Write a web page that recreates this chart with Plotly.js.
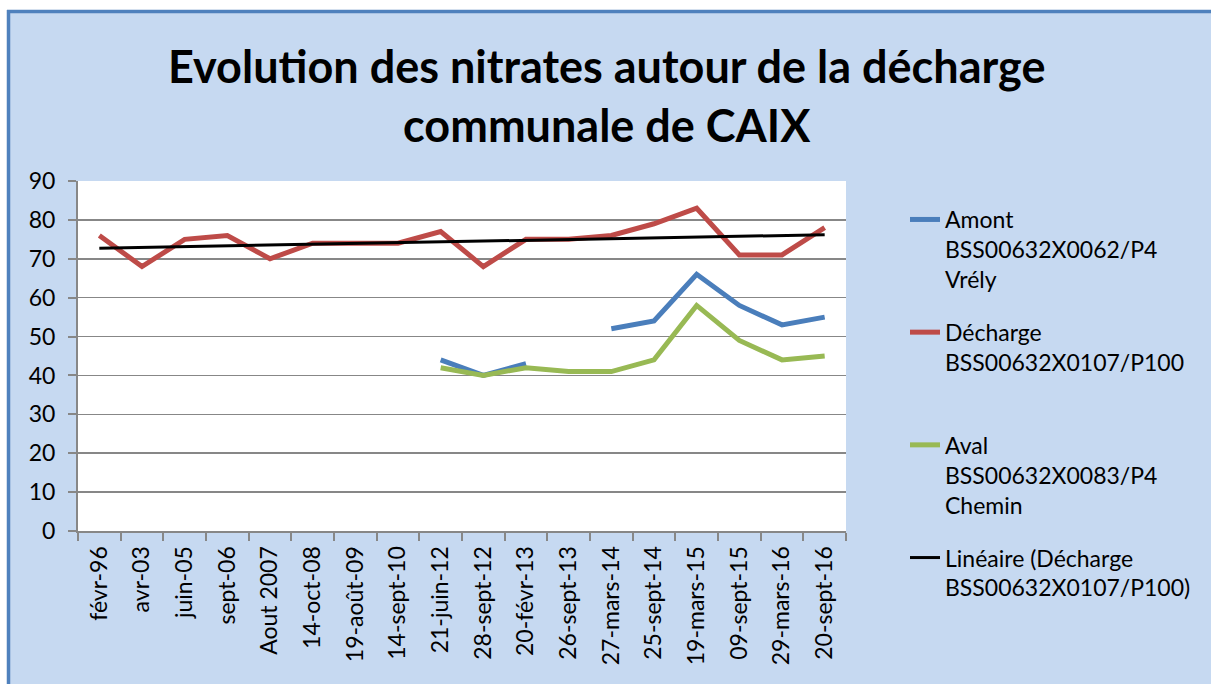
<!DOCTYPE html>
<html><head><meta charset="utf-8">
<script src="https://cdn.plot.ly/plotly-3.0.1.min.js"></script>
<style>html,body{margin:0;padding:0;background:#fff}#chart{width:1211px;height:684px}</style>
</head><body><div id="chart"></div>
<script>
const categories = ["févr-96","avr-03","juin-05","sept-06","Aout 2007","14-oct-08","19-août-09","14-sept-10","21-juin-12","28-sept-12","20-févr-13","26-sept-13","27-mars-14","25-sept-14","19-mars-15","09-sept-15","29-mars-16","20-sept-16"];
const amont    = [null,null,null,null,null,null,null,null,44,40,43,null,52,54,66,58,53,55];
const decharge = [76,68,75,76,70,74,74,74,77,68,75,75,76,79,83,71,71,78];
const aval     = [null,null,null,null,null,null,null,null,42,40,42,41,41,44,58,49,44,45];
const yTicks   = [0,10,20,30,40,50,60,70,80,90];
const names = {
  amont: "Amont<br>BSS00632X0062/P4<br>Vrély",
  decharge: "Décharge<br>BSS00632X0107/P100<br>\u00a0",
  aval: "Aval<br>BSS00632X0083/P4<br>Chemin",
  trend: "Linéaire (Décharge<br>BSS00632X0107/P100)"
};
const titleText = "Evolution des nitrates autour de la décharge<br>communale de CAIX";

// Excel-style linear trendline (least squares over category index)
const n = decharge.length;
const xs = decharge.map((_, i) => i + 1);
const mx = xs.reduce((a, b) => a + b, 0) / n;
const my = decharge.reduce((a, b) => a + b, 0) / n;
let sxy = 0, sxx = 0;
for (let i = 0; i < n; i++) { sxy += (xs[i] - mx) * (decharge[i] - my); sxx += (xs[i] - mx) ** 2; }
const slope = sxy / sxx, intercept = my - slope * mx;
const trend = xs.map(x => intercept + slope * x);

const FONT = "Lato, 'Open Sans', sans-serif";
const traces = [
  {x: categories, y: amont, name: names.amont, mode: "lines", line: {color: "#4A7EBB", width: 5}, connectgaps: false, legendgroup: "a"},
  {x: categories, y: decharge, name: names.decharge, mode: "lines", line: {color: "#BE4B48", width: 5}, legendgroup: "b"},
  {x: categories, y: aval, name: names.aval, mode: "lines", line: {color: "#98B954", width: 5}, connectgaps: false, legendgroup: "c"},
  {x: categories, y: trend, name: names.trend, mode: "lines", line: {color: "#000000", width: 3}, legendgroup: "d"}
];

const W = 1211, H = 684;
const L = 78, R = 846, T = 181, B = 531;
const px = v => (v - L) / (R - L);
const py = v => (B - v) / (B - T);

const layout = {
  width: W, height: H,
  margin: {l: L, r: W - R, t: T, b: H - B, pad: 0},
  paper_bgcolor: "#C6D9F1",
  plot_bgcolor: "#FFFFFF",
  font: {family: FONT, size: 23, color: "#000"},
  showlegend: true,
  title: {
    text: titleText,
    font: {family: FONT, size: 45, color: "#000", weight: "bold"},
    x: 0.501, xref: "container", xanchor: "center",
    y: 1 - 83 / H, yref: "container", yanchor: "top"
  },
  xaxis: {
    type: "category",
    range: [-0.5, categories.length - 0.5],
    tickangle: -90,
    ticks: "outside", ticklen: 8, tickwidth: 2, tickcolor: "#878787",
    tickson: "boundaries",
    showline: true, linecolor: "#878787", linewidth: 2,
    showgrid: false, zeroline: false,
    tickfont: {family: FONT, size: 23, color: "#000"},
    ticklabelstandoff: 4,
    fixedrange: true
  },
  yaxis: {
    range: [0, 90],
    tickvals: yTicks,
    ticks: "outside", ticklen: 8, tickwidth: 2, tickcolor: "#878787",
    showline: true, linecolor: "#878787", linewidth: 2,
    showgrid: true, gridcolor: "#878787", gridwidth: 1.5,
    zeroline: false,
    tickfont: {family: FONT, size: 23, color: "#000"},
    ticklabelstandoff: 8,
    fixedrange: true
  },
  legend: {
    x: px(905), xanchor: "left",
    y: py(198), yanchor: "top",
    bgcolor: "rgba(0,0,0,0)",
    font: {family: FONT, size: 23, color: "#000"},
    valign: "top",
    tracegroupgap: 20,
    traceorder: "grouped",
    maxheight: 680
  },
  shapes: [
    {type: "rect", xref: "paper", yref: "paper", x0: px(-5), x1: px(W + 5), y0: py(10), y1: py(-5), fillcolor: "#FFFFFF", line: {width: 0}, layer: "above"},
    {type: "rect", xref: "paper", yref: "paper", x0: px(-5), x1: px(7), y0: py(H + 5), y1: py(-5), fillcolor: "#FFFFFF", line: {width: 0}, layer: "above"},
    {type: "line", xref: "paper", yref: "paper", x0: px(7), x1: px(W + 5), y0: py(11.5), y1: py(11.5), line: {color: "#4F81BD", width: 3.5}, layer: "above"},
    {type: "line", xref: "paper", yref: "paper", x0: px(8.5), x1: px(8.5), y0: py(10), y1: py(H + 5), line: {color: "#4F81BD", width: 3.5}, layer: "above"}
  ]
};

Plotly.newPlot("chart", traces, layout, {displayModeBar: false, staticPlot: true});
</script>
</body></html>
